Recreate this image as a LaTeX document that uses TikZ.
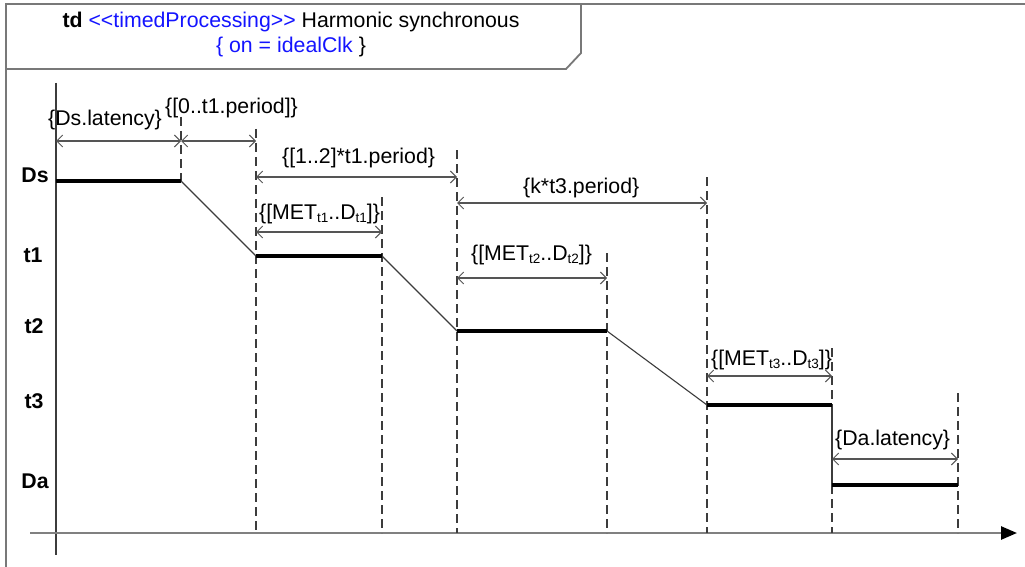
\documentclass[tikz,border=0pt]{standalone}
\usepackage{fontspec}
\setmainfont{Liberation Sans}
\usetikzlibrary{arrows.meta}
\definecolor{umlblue}{RGB}{20,20,255}
\definecolor{framegray}{RGB}{120,120,120}
\definecolor{dimgray}{RGB}{85,85,85}
\definecolor{dashgray}{RGB}{60,60,60}
\definecolor{axisgray}{RGB}{128,128,128}
\newcommand\lsub[1]{\raisebox{-0.3ex}{\fontsize{13.5}{13.5}\selectfont #1}}
\begin{document}
\begin{tikzpicture}[x=1pt,y=-1pt,
  txt/.style={inner sep=0pt, font=\fontsize{21.3}{25}\selectfont, anchor=base west},
  lbl/.style={inner sep=0pt, font=\fontsize{21.3}{25}\selectfont\bfseries, anchor=base},
  dimline/.style={draw=dimgray, line width=1.1pt, {Straight Barb[length=6pt,width=12pt,line width=1pt]}-{Straight Barb[length=6pt,width=12pt,line width=1pt]}},
  vdash/.style={draw=dashgray, line width=1.4pt, dash pattern=on 9pt off 5pt},
  exec/.style={draw=black, line width=3.5pt},
  link/.style={draw=dashgray, line width=1.1pt},
  framestyle/.style={draw=framegray, line width=2.2pt},
]
\useasboundingbox (0,0) rectangle (1025,567);
\fill[white] (0,0) rectangle (1025,567);

% frame and header
\draw[framestyle] (6,567) -- (6,4) -- (1025,4);
\draw[draw=framegray, line width=1.8pt] (6,69) -- (566,69) -- (581,53) -- (581,4);
\node[inner sep=0pt, anchor=base, font=\fontsize{21.3}{25}\selectfont] (title) at (291,28)
  {\textbf{td} \textcolor{umlblue}{<{}<timedProcessing>{}>} Harmonic synchronous};
\node[inner sep=0pt, anchor=base, font=\fontsize{21.3}{25}\selectfont, text=umlblue] (clock) at (291,53)
  {\{ on = idealClk \textcolor{black}{\}}};

% axes
\coordinate (vtop) at (56,83);
\coordinate (vbot) at (56,555);
\coordinate (hstart) at (30,533);
\coordinate (hend) at (1017,533);
\draw[draw=dashgray, line width=1.3pt] (vtop) -- (vbot);
\draw[draw=axisgray, line width=2.6pt, -{Triangle[length=16pt,width=13pt,color=black]}] (hstart) -- (hend);

% lifeline labels
\node[lbl] (lDs) at (35,182) {Ds};
\node[lbl] (lt1) at (33,262) {t1};
\node[lbl] (lt2) at (34,333) {t2};
\node[lbl] (lt3) at (34,408) {t3};
\node[lbl] (lDa) at (35,488) {Da};

% key points
\coordinate (ds0) at (56,181);  \coordinate (ds1) at (181,181);
\coordinate (a0) at (256,256);  \coordinate (a1) at (382,256);
\coordinate (b0) at (457,331);  \coordinate (b1) at (607,331);
\coordinate (c0) at (707,405);  \coordinate (c1) at (832,405);
\coordinate (d0) at (832,485);  \coordinate (d1) at (958,485);

% vertical dashed lines
\coordinate (v1t) at (181,117);
\coordinate (v2t) at (256,129);  \coordinate (v2b) at (256,533);
\coordinate (v3t) at (382,197);  \coordinate (v3b) at (382,533);
\coordinate (v4t) at (457,150);  \coordinate (v4b) at (457,533);
\coordinate (v5t) at (607,253);  \coordinate (v5b) at (607,533);
\coordinate (v6t) at (707,177);  \coordinate (v6b) at (707,533);
\coordinate (v7t) at (832,348);  \coordinate (v7b) at (832,533);
\coordinate (v8t) at (958,393);  \coordinate (v8b) at (958,533);
\draw[vdash] (v1t) -- (ds1);
\draw[vdash] (v2t) -- (v2b);
\draw[vdash] (v3t) -- (v3b);
\draw[vdash] (v4t) -- (v4b);
\draw[vdash] (v5t) -- (v5b);
\draw[vdash] (v6t) -- (v6b);
\draw[vdash] (v7t) -- (c1);
\draw[vdash] (d0) -- (v7b);
\draw[vdash] (v8t) -- (v8b);

% transitions
\draw[link] (ds1) -- (a0);
\draw[link] (a1) -- (b0);
\draw[link] (b1) -- (c0);
\draw[link] (c1) -- (d0);

% executions
\draw[exec] (ds0) -- (ds1);
\draw[exec] (a0) -- (a1);
\draw[exec] (b0) -- (b1);
\draw[exec] (c0) -- (c1);
\draw[exec] (d0) -- (d1);

% dimension arrows
\coordinate (m1a) at (56,141);  \coordinate (m1b) at (181,141);
\coordinate (m2a) at (181,141); \coordinate (m2b) at (256,141);
\coordinate (m3a) at (256,177); \coordinate (m3b) at (457,177);
\coordinate (m4a) at (256,232); \coordinate (m4b) at (382,232);
\coordinate (m5a) at (457,203); \coordinate (m5b) at (707,203);
\coordinate (m6a) at (457,278); \coordinate (m6b) at (607,278);
\coordinate (m7a) at (707,376); \coordinate (m7b) at (832,376);
\coordinate (m8a) at (832,459); \coordinate (m8b) at (958,459);
\draw[dimline] (m1a) -- (m1b);
\draw[dimline] (m2a) -- (m2b);
\draw[dimline] (m3a) -- (m3b);
\draw[dimline] (m4a) -- (m4b);
\draw[dimline] (m5a) -- (m5b);
\draw[dimline] (m6a) -- (m6b);
\draw[dimline] (m7a) -- (m7b);
\draw[dimline] (m8a) -- (m8b);

% dimension labels
\node[txt] (t1) at (48,126) {\{Ds.latency\}};
\node[txt] (t2) at (165,114) {\{[0..t1.period]\}};
\node[txt] (t3) at (282,164) {\{[1..2]*t1.period\}};
\node[txt] (t4) at (259,219) {\{[MET\lsub{t1}..D\lsub{t1}]\}};
\node[txt] (t5) at (523,193) {\{k*t3.period\}};
\node[txt] (t6) at (471,260) {\{[MET\lsub{t2}..D\lsub{t2}]\}};
\node[txt] (t7) at (711,365) {\{[MET\lsub{t3}..D\lsub{t3}]\}};
\node[txt] (t8) at (835,445) {\{Da.latency\}};
\end{tikzpicture}
\end{document}
